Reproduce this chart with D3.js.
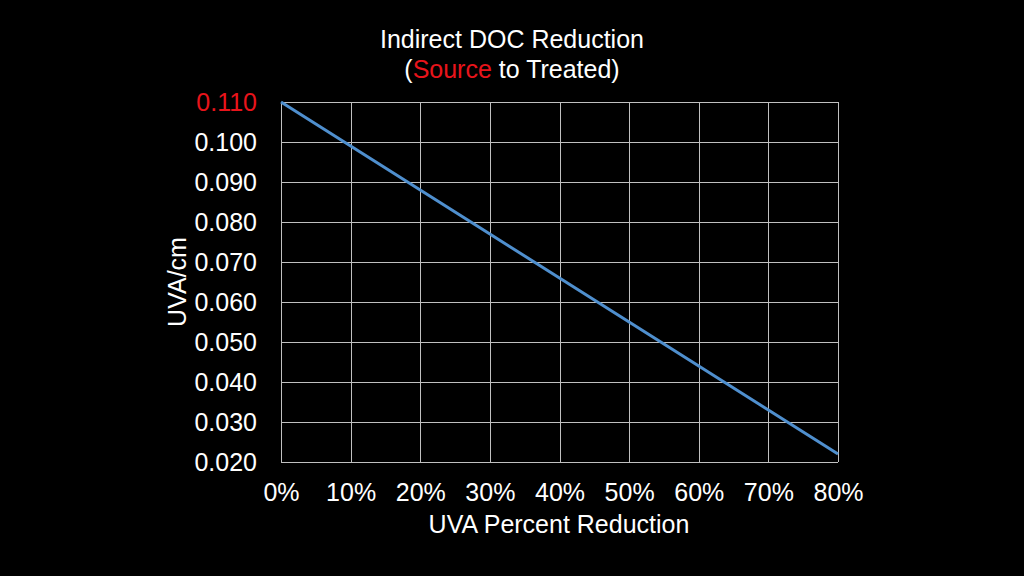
<!DOCTYPE html>
<html><head><meta charset="utf-8">
<script src="https://cdn.jsdelivr.net/npm/d3@7"></script>
<style>html,body{margin:0;background:#000;}svg{display:block;font-family:"Liberation Sans",Arial,sans-serif;}</style>
</head><body>
<script>
const percentReduction = [0, 10, 20, 30, 40, 50, 60, 70, 80];
const uvaValues = [0.110, 0.099, 0.088, 0.077, 0.066, 0.055, 0.044, 0.033, 0.022];
const yTicks = [0.020, 0.030, 0.040, 0.050, 0.060, 0.070, 0.080, 0.090, 0.100, 0.110];
const xTicks = [0, 10, 20, 30, 40, 50, 60, 70, 80];

const W = 1024, H = 576;
const FS = "25px";
const m = {left: 281, right: 1024 - 838, top: 102, bottom: 576 - 462};
const svg = d3.select("body").append("svg").attr("width", W).attr("height", H);
svg.append("rect").attr("width", W).attr("height", H).attr("fill", "#000");

const x = d3.scaleLinear().domain([0, 80]).range([m.left, W - m.right]);
const y = d3.scaleLinear().domain([0.020, 0.110]).range([H - m.bottom, m.top]);

const grid = svg.append("g").attr("stroke", "#c0c0c0").attr("stroke-width", 1);
grid.selectAll(".h").data(yTicks).join("line")
  .attr("x1", x(0)).attr("x2", x(80))
  .attr("y1", d => Math.round(y(d)) + 0.5).attr("y2", d => Math.round(y(d)) + 0.5);
grid.selectAll(".v").data(xTicks).join("line")
  .attr("y1", y(0.020)).attr("y2", y(0.110))
  .attr("x1", d => Math.round(x(d)) + 0.5).attr("x2", d => Math.round(x(d)) + 0.5);

const yAxis = d3.axisLeft(y).tickValues(yTicks).tickFormat(d3.format(".3f")).tickSize(0).tickPadding(24);
const gy = svg.append("g").attr("transform", `translate(${m.left},0)`).call(yAxis);
gy.select(".domain").remove();
gy.selectAll("text").attr("fill", d => Math.abs(d - 0.110) < 1e-9 ? "#e8141b" : "#fff")
  .style("font-size", FS).style("font-family", "Liberation Sans, Arial, sans-serif");

const xAxis = d3.axisBottom(x).tickValues(xTicks).tickFormat(d => d + "%").tickSize(0).tickPadding(21);
const gx = svg.append("g").attr("transform", `translate(0,${H - m.bottom})`).call(xAxis);
gx.select(".domain").remove();
gx.selectAll("text").attr("fill", "#fff")
  .style("font-size", FS).style("font-family", "Liberation Sans, Arial, sans-serif");

const line = d3.line().x((d, i) => x(percentReduction[i])).y(d => y(d));
svg.append("path").datum(uvaValues).attr("d", line)
  .attr("fill", "none").attr("stroke", "#4f8fce").attr("stroke-width", 3);

svg.append("text").attr("x", 512).attr("y", 48).attr("text-anchor", "middle")
  .attr("fill", "#fff").style("font-size", FS).text("Indirect DOC Reduction");
const t2 = svg.append("text").attr("x", 512).attr("y", 78).attr("text-anchor", "middle")
  .attr("fill", "#fff").style("font-size", FS);
t2.append("tspan").text("(");
t2.append("tspan").attr("fill", "#e8141b").text("Source");
t2.append("tspan").text(" to Treated)");

svg.append("text").attr("x", 559).attr("y", 533).attr("text-anchor", "middle")
  .attr("fill", "#fff").style("font-size", FS).text("UVA Percent Reduction");
svg.append("text").attr("transform", "translate(186,282) rotate(-90)").attr("text-anchor", "middle")
  .attr("fill", "#fff").style("font-size", FS).text("UVA/cm");
</script>
</body></html>
